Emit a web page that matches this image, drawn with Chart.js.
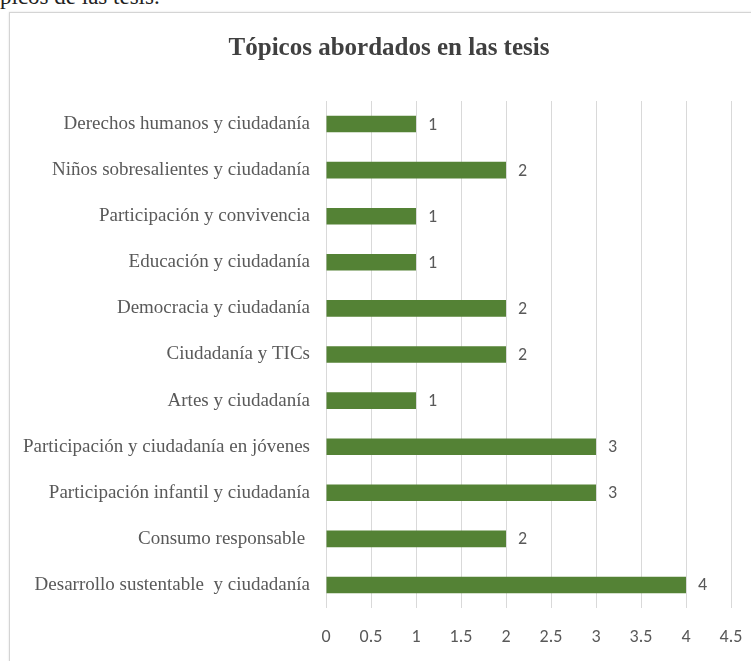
<!DOCTYPE html>
<html>
<head>
<meta charset="utf-8">
<script src="https://cdn.jsdelivr.net/npm/chart.js@4.4.1/dist/chart.umd.min.js"></script>
<style>
  html, body { margin: 0; background: #fff; overflow: hidden; width: 751px; height: 661px; }
  #caption { position: absolute; left: 0; top: -15px; font: 23px "Liberation Serif", serif; line-height: 24px; color: #222; white-space: nowrap; }
  #box { position: absolute; left: 9px; top: 12px; width: 758px; height: 649px; border: 1px solid #d4d4d4; box-shadow: 0 0 2px #e0e0e0; }
  #myChart { position: absolute; left: 0; top: 0; }
</style>
</head>
<body>
<div id="caption">picos de las tesis.</div>
<div id="box"><canvas id="myChart" width="758" height="649"></canvas></div>
<script>
// categorías (de arriba hacia abajo)
var topicos = [
  'Derechos humanos y ciudadanía',
  'Niños sobresalientes y ciudadanía',
  'Participación y convivencia',
  'Educación y ciudadanía',
  'Democracia y ciudadanía',
  'Ciudadanía y TICs',
  'Artes y ciudadanía',
  'Participación y ciudadanía en jóvenes',
  'Participación infantil y ciudadanía',
  'Consumo responsable ',
  'Desarrollo sustentable  y ciudadanía'
];
// número de tesis
var tesis = [1, 2, 1, 1, 2, 2, 1, 3, 3, 2, 4];
var ejeMax = 4.5;

// etiquetas de valor al final de cada barra
var etiquetas = {
  id: 'etiquetas',
  afterDatasetsDraw: function (chart) {
    var ctx = chart.ctx;
    ctx.save();
    ctx.font = '18px Carlito, "Open Sans", sans-serif';
    ctx.fillStyle = '#595959';
    ctx.textAlign = 'left';
    ctx.textBaseline = 'middle';
    chart.getDatasetMeta(0).data.forEach(function (bar, i) {
      ctx.fillText(tesis[i], bar.x + 12, bar.y + 1);
    });
    ctx.restore();
  }
};

var ctx = document.getElementById('myChart').getContext('2d');
new Chart(ctx, {
  type: 'bar',
  data: {
    labels: topicos,
    datasets: [{
      data: tesis,
      backgroundColor: '#548235',
      barPercentage: 0.72,
      categoryPercentage: 0.5
    }]
  },
  options: {
    indexAxis: 'y',
    responsive: false,
    animation: false,
    layout: { padding: 0 },
    plugins: {
      legend: { display: false },
      tooltip: { enabled: false },
      title: {
        display: true,
        text: 'Tópicos abordados en las tesis',
        color: '#404040',
        font: { family: '"Liberation Serif", serif', size: 25, weight: 'bold' },
        padding: { top: 21, bottom: 37 }
      }
    },
    scales: {
      y: {
        ticks: {
          color: '#595959',
          padding: 16,
          font: { family: '"Liberation Serif", serif', size: 19 }
        },
        grid: { display: false, drawTicks: false },
        border: { display: false },
        afterFit: function (s) { s.width = 316; }
      },
      // eje vacío a la derecha: deja el margen sin descentrar el título
      margenDer: {
        axis: 'y',
        type: 'category',
        position: 'right',
        ticks: { display: false },
        grid: { display: false, drawTicks: false },
        border: { display: false },
        afterFit: function (s) { s.width = 37; }
      },
      x: {
        min: 0,
        max: ejeMax,
        ticks: {
          stepSize: 0.5,
          color: '#595959',
          padding: 19,
          font: { family: 'Carlito, "Open Sans", sans-serif', size: 18 },
          callback: function (v) { return String(v); }
        },
        grid: { color: '#d9d9d9', drawTicks: false },
        border: { display: false },
        afterFit: function (s) { s.height = 54; }
      }
    }
  },
  plugins: [etiquetas]
});
</script>
</body>
</html>
